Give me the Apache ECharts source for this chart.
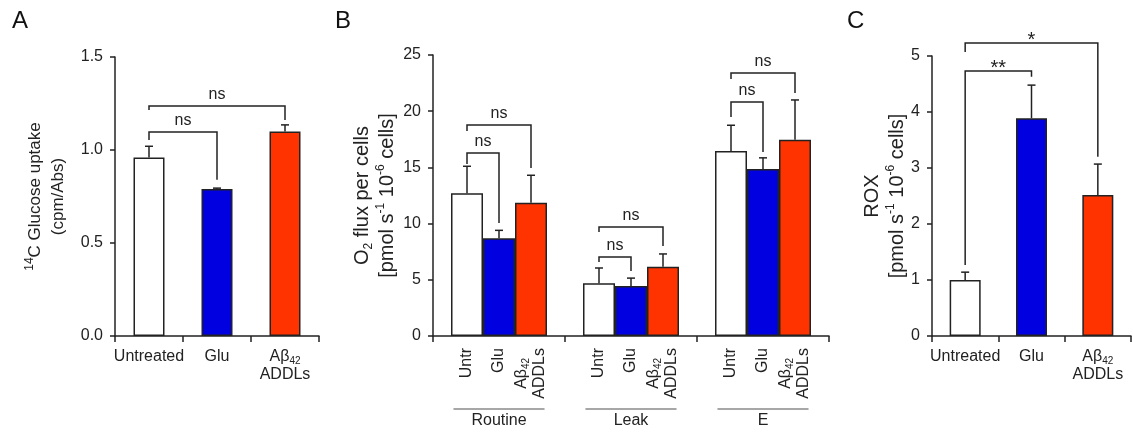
<!DOCTYPE html>
<html>
<head>
<meta charset="utf-8">
<script src="https://cdn.jsdelivr.net/npm/echarts@6/dist/echarts.min.js"></script>
<style>
  html, body { margin: 0; padding: 0; background: #fff; }
  #chart { width: 1133px; height: 432px; }
</style>
</head>
<body>
<div id="chart"></div>
<script>
// ---- A: 14C glucose uptake ----
const glucoseCategories = ['Untreated', 'Glu', 'Aβ42 ADDLs'];
const glucoseMeans = [0.96, 0.79, 1.10];
const glucoseErrors = [0.06, 0.005, 0.035];
// [fromIndex, toIndex, bracketLevel, fromLegEnd, toLegEnd]
const glucoseBrackets = [
  [0, 1, 1.097, 1.054, 0.84],
  [0, 2, 1.237, 1.215, 1.161]
];
const glucoseBracketLabels = ['ns', 'ns'];

// ---- B: O2 flux per cells ----
const fluxStates = ['Routine', 'Leak', 'E'];
const fluxTreatments = ['Untr', 'Glu', 'Aβ42 ADDLs'];
const fluxUntr = [12.7, 4.7, 16.45];
const fluxUntrErr = [2.4, 1.35, 2.3];
const fluxGlu = [8.7, 4.45, 14.85];
const fluxGluErr = [0.7, 0.7, 1.0];
const fluxAddl = [11.85, 6.15, 17.45];
const fluxAddlErr = [2.45, 1.15, 3.55];
// [state, fromTreatment, toTreatment, bracketLevel, fromLegEnd, toLegEnd]
const fluxBrackets = [
  [0, 0, 1, 16.28, 15.3, 10.05],
  [0, 0, 2, 18.77, 18.24, 14.95],
  [1, 0, 1, 7.03, 6.58, 5.78],
  [1, 0, 2, 9.70, 9.25, 8.0],
  [2, 0, 1, 20.82, 19.48, 16.37],
  [2, 0, 2, 23.40, 22.86, 21.62]
];
const fluxBracketLabels = ['ns', 'ns', 'ns', 'ns', 'ns', 'ns'];

// ---- C: ROX ----
const roxCategories = ['Untreated', 'Glu', 'Aβ42 ADDLs'];
const roxMeans = [1.0, 3.89, 2.52];
const roxErrors = [0.14, 0.59, 0.55];
const roxBrackets = [
  [0, 1, 4.73, 1.27, 4.63],
  [0, 2, 5.23, 5.07, 3.20]
];
const roxBracketLabels = ['**', '*'];

const panelLetters = ['A', 'B', 'C'];

// ---- styling ----
const FONT = '"Liberation Sans", Arial, Helvetica, sans-serif';
const INK = '#222';
const FILLS = ['#ffffff', '#0000e0', '#ff3300'];
const FLUX_BAR_W = 32;

const labelRich = {
  t: { fontSize: 16, lineHeight: 18, fontFamily: FONT, color: INK, align: 'center' },
  sub: { fontSize: 10, lineHeight: 10, padding: [10, 0, 0, 0], verticalAlign: 'bottom', fontFamily: FONT, color: INK, align: 'center' }
};

function richName(name) {
  if (name.indexOf('Aβ42') === 0) {
    return '{t|Aβ}{sub|42}\n{t|' + name.slice(5) + '}';
  }
  return '{t|' + name + '}';
}

function nameRich(size, lh) {
  return {
    t: { fontSize: size, lineHeight: lh, fontFamily: FONT, color: INK },
    sup: { fontSize: 12, lineHeight: 12, verticalAlign: 'top', fontFamily: FONT, color: INK },
    sub: { fontSize: 12, lineHeight: 12, padding: [14, 0, 0, 0], verticalAlign: 'bottom', fontFamily: FONT, color: INK }
  };
}

const axisLineStyle = { color: INK, width: 1.5 };

function valueAxis(gridIndex, max, interval, name, gap, size, lh, fmt) {
  return {
    type: 'value', gridIndex, min: 0, max, interval,
    name, nameLocation: 'middle', nameRotate: 90, nameGap: gap,
    nameTextStyle: { rich: nameRich(size, lh) },
    axisLine: { show: true, lineStyle: axisLineStyle },
    axisTick: { show: true, length: 5, lineStyle: axisLineStyle },
    axisLabel: { fontSize: 16, fontFamily: FONT, color: INK, margin: 12, formatter: fmt },
    splitLine: { show: false }
  };
}

function categoryAxis(gridIndex, data, labelOpts) {
  return {
    type: 'category', gridIndex, data,
    axisLine: { show: true, lineStyle: axisLineStyle },
    axisTick: { show: true, length: 6, lineStyle: axisLineStyle },
    axisLabel: Object.assign({ fontSize: 16, fontFamily: FONT, color: INK, interval: 0 }, labelOpts)
  };
}

// Upward error bar with a short cap, shifted by slot offset (pixels)
function errorBarRenderer(offsetPx) {
  return function (params, api) {
    const x = api.value(0), m = api.value(1), e = api.value(2);
    const base = api.coord([x, m]);
    const top = api.coord([x, m + e]);
    const cx = base[0] + offsetPx;
    const style = { stroke: INK, lineWidth: 1.5, fill: null };
    return {
      type: 'group',
      children: [
        { type: 'line', shape: { x1: cx, y1: base[1], x2: cx, y2: top[1] }, style },
        { type: 'line', shape: { x1: cx - 4, y1: top[1], x2: cx + 4, y2: top[1] }, style }
      ]
    };
  };
}

function bracketShape(x1, y1, x2, y2, yl, label) {
  const star = label.indexOf('*') >= 0;
  return {
    type: 'group',
    children: [
      {
        type: 'polyline',
        shape: { points: [[x1, y1], [x1, yl], [x2, yl], [x2, y2]] },
        style: { stroke: INK, lineWidth: 1.5, fill: null }
      },
      {
        type: 'text',
        style: {
          text: label, x: (x1 + x2) / 2, y: star ? yl + 7 : yl - 3,
          align: 'center', verticalAlign: 'bottom',
          fontSize: star ? 20 : 16, fontFamily: FONT, fill: INK
        }
      }
    ]
  };
}

function simpleBracketRenderer(labels) {
  return function (params, api) {
    const a = api.coord([api.value(0), api.value(3)]);
    const b = api.coord([api.value(1), api.value(4)]);
    const yl = api.coord([api.value(0), api.value(2)])[1];
    return bracketShape(a[0], a[1], b[0], b[1], yl, labels[params.dataIndex]);
  };
}

function fluxBracketRenderer(params, api) {
  const g = api.value(0);
  const a = api.coord([g, api.value(4)]);
  const b = api.coord([g, api.value(5)]);
  const yl = api.coord([g, api.value(3)])[1];
  const x1 = a[0] + (api.value(1) - 1) * FLUX_BAR_W;
  const x2 = b[0] + (api.value(2) - 1) * FLUX_BAR_W;
  return bracketShape(x1, a[1], x2, b[1], yl, fluxBracketLabels[params.dataIndex]);
}

// Grey rule under each state's group of treatment labels
function groupRuleRenderer(params, api) {
  const c = api.coord([api.value(0), 0]);
  const half = api.size([1, 0])[0] * 0.345;
  return {
    type: 'line',
    shape: { x1: c[0] - half, y1: c[1] + 73, x2: c[0] + half, y2: c[1] + 73 },
    style: { stroke: '#8a8a8a', lineWidth: 1.5 }
  };
}

const fluxSeriesValues = [fluxUntr, fluxGlu, fluxAddl];
const fluxSeriesErrors = [fluxUntrErr, fluxGluErr, fluxAddlErr];

const series = [];

// Panel A bars
series.push({
  type: 'bar', xAxisIndex: 0, yAxisIndex: 0, barWidth: 31,
  data: glucoseMeans.map((v, i) => ({ value: v, itemStyle: { color: FILLS[i] } })),
  itemStyle: { borderColor: INK, borderWidth: 1.5 }
});
series.push({
  type: 'custom', xAxisIndex: 0, yAxisIndex: 0, z: 5,
  renderItem: errorBarRenderer(0),
  encode: { x: 0, y: [1, 2] },
  data: glucoseMeans.map((v, i) => [i, v, glucoseErrors[i]])
});
series.push({
  type: 'custom', xAxisIndex: 0, yAxisIndex: 0, z: 5,
  renderItem: simpleBracketRenderer(glucoseBracketLabels),
  encode: { x: [0, 1], y: [2, 3, 4] },
  data: glucoseBrackets
});

// Panel B bars, one series per treatment
fluxTreatments.forEach((name, k) => {
  series.push({
    type: 'bar', name, xAxisIndex: 1, yAxisIndex: 1,
    barWidth: FLUX_BAR_W, barGap: '0%',
    data: fluxSeriesValues[k],
    itemStyle: { color: FILLS[k], borderColor: INK, borderWidth: 1.5 },
    label: {
      show: true, position: 'bottom', distance: 12, rotate: 90,
      align: 'right', verticalAlign: 'middle',
      formatter: richName(name), rich: labelRich
    }
  });
  series.push({
    type: 'custom', xAxisIndex: 1, yAxisIndex: 1, z: 5,
    renderItem: errorBarRenderer((k - 1) * FLUX_BAR_W),
    encode: { x: 0, y: [1, 2] },
    data: fluxSeriesValues[k].map((v, i) => [i, v, fluxSeriesErrors[k][i]])
  });
});
series.push({
  type: 'custom', xAxisIndex: 1, yAxisIndex: 1, z: 5,
  renderItem: fluxBracketRenderer,
  encode: { x: 0, y: [3, 4, 5] },
  data: fluxBrackets
});
series.push({
  type: 'custom', xAxisIndex: 1, yAxisIndex: 1, z: 5,
  renderItem: groupRuleRenderer,
  encode: { x: 0, y: 1 },
  data: fluxStates.map((s, i) => [i, 0])
});

// Panel C bars
series.push({
  type: 'bar', xAxisIndex: 2, yAxisIndex: 2, barWidth: 31,
  data: roxMeans.map((v, i) => ({ value: v, itemStyle: { color: FILLS[i] } })),
  itemStyle: { borderColor: INK, borderWidth: 1.5 }
});
series.push({
  type: 'custom', xAxisIndex: 2, yAxisIndex: 2, z: 5,
  renderItem: errorBarRenderer(0),
  encode: { x: 0, y: [1, 2] },
  data: roxMeans.map((v, i) => [i, v, roxErrors[i]])
});
series.push({
  type: 'custom', xAxisIndex: 2, yAxisIndex: 2, z: 5,
  renderItem: simpleBracketRenderer(roxBracketLabels),
  encode: { x: [0, 1], y: [2, 3, 4] },
  data: roxBrackets
});

const letterPos = [12, 335, 847];

const option = {
  animation: false,
  backgroundColor: '#fff',
  title: panelLetters.map((t, i) => ({
    text: t, left: letterPos[i], top: 9, padding: 0,
    textStyle: { fontSize: 24, fontWeight: 'normal', fontFamily: FONT, color: '#111' }
  })),
  grid: [
    { left: 115, top: 57, width: 204, height: 279 },
    { left: 433, top: 55, width: 396, height: 281 },
    { left: 932, top: 56, width: 199, height: 280 }
  ],
  xAxis: [
    categoryAxis(0, glucoseCategories, { margin: 12, formatter: richName, rich: labelRich }),
    categoryAxis(1, fluxStates, { margin: 77 }),
    categoryAxis(2, roxCategories, { margin: 12, formatter: richName, rich: labelRich })
  ],
  yAxis: [
    valueAxis(0, 1.5, 0.5, '{sup|14}{t|C Glucose uptake}\n{t|(cpm/Abs)}', 45, 17, 23, v => v.toFixed(1)),
    valueAxis(1, 25, 5, '{t|O}{sub|2}{t| flux per cells}\n{t|[pmol s}{sup|-1}{t| 10}{sup|-6}{t| cells]}', 33, 20, 25),
    valueAxis(2, 5, 1, '{t|ROX}\n{t|[pmol s}{sup|-1}{t| 10}{sup|-6}{t| cells]}', 21, 20, 25)
  ],
  series
};

const chart = echarts.init(document.getElementById('chart'), null, { renderer: 'canvas' });
chart.setOption(option);
</script>
</body>
</html>
